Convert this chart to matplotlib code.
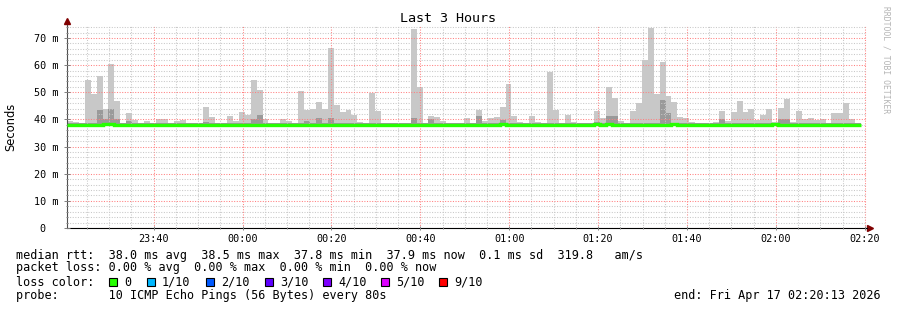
import matplotlib
matplotlib.use('Agg')
import matplotlib.pyplot as plt
from matplotlib.patches import Rectangle

# time in minutes after 23:00, one smokeping step = 80 s
t_start = 20.5
t_end = 200.5
step = 80 / 60

# highest ping per step (ms)
smoke_max = [39.5, 39.0, 38.3, 54.6, 49.4, 56.1, 43.9, 60.5, 46.9, 38.5,
             42.4, 39.9, 38.2, 39.3, 38.2, 40.2, 40.0, 38.3, 39.5, 39.9,
             38.3, 38.3, 38.7, 44.6, 41.0, 38.3, 38.3, 41.4, 39.5, 42.8,
             41.6, 54.6, 50.9, 40.2, 38.3, 38.3, 40.2, 39.5, 38.3, 50.5,
             43.5, 43.9, 46.5, 43.9, 66.4, 45.4, 42.8, 43.5, 41.6, 39.1,
             38.3, 49.8, 43.2, 38.3, 38.3, 38.4, 38.5, 38.7, 73.4, 52.0,
             38.3, 41.4, 41.0, 39.5, 38.7, 38.3, 38.3, 40.6, 38.3, 43.5,
             39.5, 40.6, 41.0, 44.6, 53.1, 41.4, 38.9, 38.3, 41.4, 39.1,
             38.3, 57.6, 43.5, 38.8, 41.6, 39.1, 38.3, 38.3, 38.8, 43.2,
             40.6, 52.0, 48.0, 39.5, 38.3, 43.2, 46.1, 62.0, 73.8, 49.4,
             61.3, 48.7, 46.5, 41.0, 40.6, 39.1, 38.3, 38.3, 38.8, 39.1,
             43.2, 39.5, 42.8, 46.9, 42.8, 43.9, 39.9, 41.6, 43.9, 39.1,
             44.3, 47.6, 39.1, 43.2, 40.2, 40.6, 39.9, 40.0, 38.8, 42.4,
             42.4, 46.1, 40.2, 38.3]

# inner (darker) smoke per step (ms)
smoke_inner = [38.8, 38.8, 38.8, 38.8, 38.8, 43.5, 40.2, 43.9, 40.2, 38.8,
               39.3, 38.8, 38.8, 38.8, 38.8, 38.8, 38.8, 38.8, 38.8, 38.8,
               38.8, 38.8, 38.8, 39.0, 38.8, 38.8, 38.8, 38.8, 38.8, 38.8,
               38.8, 40.2, 41.6, 38.8, 38.8, 38.8, 38.8, 38.8, 38.8, 38.8,
               39.5, 38.8, 40.6, 38.8, 40.6, 38.8, 38.8, 38.8, 38.8, 38.8,
               38.8, 38.8, 38.8, 38.8, 38.8, 38.8, 38.8, 38.8, 40.6, 38.8,
               38.8, 40.2, 38.8, 38.8, 38.8, 38.8, 38.8, 38.8, 38.8, 41.4,
               38.8, 38.8, 38.8, 39.9, 38.8, 38.8, 38.8, 38.8, 38.8, 38.8,
               38.8, 38.8, 38.8, 38.8, 38.8, 38.8, 38.8, 38.8, 38.8, 39.2,
               38.8, 41.4, 41.4, 38.8, 38.8, 38.8, 38.8, 38.8, 38.8, 38.8,
               47.0, 42.4, 38.8, 38.8, 38.8, 38.8, 38.8, 38.8, 38.8, 38.8,
               40.2, 38.8, 38.8, 38.8, 38.8, 38.8, 38.8, 38.8, 38.8, 38.8,
               40.2, 40.2, 38.8, 38.8, 38.8, 38.8, 38.8, 38.8, 38.8, 38.8,
               38.8, 38.8, 38.8, 38.8]

# median rtt per step (ms)
median = [37.8, 37.8, 37.8, 38.0, 38.0, 37.8, 38.3, 38.3, 38.0, 38.0,
          38.0, 37.8, 37.8, 38.0, 37.8, 37.8, 38.0, 38.0, 38.0, 38.0,
          38.0, 37.8, 37.8, 38.0, 38.0, 37.8, 38.0, 37.8, 38.0, 38.0,
          37.8, 38.0, 38.0, 37.8, 37.8, 38.0, 38.0, 37.8, 38.0, 38.0,
          38.0, 37.8, 38.0, 38.0, 37.8, 38.0, 38.0, 38.0, 38.0, 38.0,
          38.0, 38.0, 38.0, 37.8, 37.8, 38.0, 38.0, 37.8, 38.0, 38.0,
          37.8, 38.0, 38.0, 38.0, 37.8, 38.0, 38.0, 38.0, 37.8, 38.0,
          38.0, 38.0, 38.0, 38.2, 38.0, 37.8, 38.0, 38.0, 38.0, 37.8,
          37.8, 38.0, 38.0, 38.0, 38.0, 37.8, 37.8, 38.0, 38.0, 38.2,
          38.0, 38.2, 38.0, 37.8, 38.0, 38.0, 37.8, 37.8, 38.0, 38.0,
          38.0, 38.0, 38.2, 38.0, 38.0, 38.0, 37.8, 37.8, 37.8, 38.0,
          38.0, 37.8, 37.8, 38.0, 38.0, 38.0, 37.8, 37.8, 38.0, 38.2,
          38.0, 38.0, 38.0, 37.8, 37.8, 38.0, 38.0, 37.8, 38.0, 38.0,
          38.0, 37.8, 38.0, 37.8]
min_rtt = 37.8

tick_pos = [40, 60, 80, 100, 120, 140, 160, 180, 200]
tick_labels = ['23:40', '00:00', '00:20', '00:40', '01:00', '01:20', '01:40', '02:00', '02:20']
ytick_pos = [0, 10, 20, 30, 40, 50, 60, 70]
ytick_labels = ['0  ', '10 m', '20 m', '30 m', '40 m', '50 m', '60 m', '70 m']

loss_labels = ['0', '1/10', '2/10', '3/10', '4/10', '5/10', '9/10']
loss_colors = ['#26ff00', '#00b8ff', '#0059ff', '#5e00ff', '#7e00ff', '#dd00ff', '#ff0000']
loss_box_x = [109, 147, 206, 265, 323, 381, 439]

mono = 'DejaVu Sans Mono'
W, H = 897, 310
fig = plt.figure(figsize=(W / 100, H / 100), dpi=100)
ax = fig.add_axes([67 / W, (H - 228) / H, 800 / W, 202 / H])

n = len(smoke_max)
lefts = [t_start + i * step for i in range(n)]
edges = [t_start + i * step for i in range(n + 1)]

ax.bar(lefts, [m - min_rtt for m in smoke_max], width=step, bottom=min_rtt,
       align='edge', color='#c8c8c8', linewidth=0, zorder=1)
ax.bar(lefts, [m - min_rtt for m in smoke_inner], width=step, bottom=min_rtt,
       align='edge', color='#9a9a9a', linewidth=0, zorder=1.5)
ax.stairs(median, edges, color='#26ff00', linewidth=2.4, baseline=None, zorder=4)

ax.set_xlim(t_start, t_end)
ax.set_ylim(0, 74.4)
ax.set_xticks(tick_pos)
ax.set_xticklabels(tick_labels)
ax.set_xticks([x for x in range(25, 201, 5)], minor=True)
ax.set_yticks(ytick_pos)
ax.set_yticklabels(ytick_labels)
ax.set_yticks(list(range(2, 75, 2)), minor=True)

dots = (0, (1, 1.5))
ax.grid(which='minor', color='#c8c8c8', linestyle=dots, linewidth=0.75, zorder=2)
ax.grid(which='major', color='#ff8080', linestyle=dots, linewidth=0.75, zorder=2)
ax.set_axisbelow(False)

for s in ['top', 'right']:
    ax.spines[s].set_visible(False)
ax.spines['left'].set_color('#505050')
ax.spines['bottom'].set_color('#000000')
ax.spines['left'].set_linewidth(0.8)
ax.spines['bottom'].set_linewidth(0.8)

ax.tick_params(axis='both', which='both', direction='inout', color='#808080', width=0.7)
ax.tick_params(axis='y', which='major', length=4, pad=4, labelsize=7.3)
ax.tick_params(axis='y', which='minor', length=2)
ax.tick_params(axis='x', which='major', length=3, pad=3, labelsize=7.3)
ax.tick_params(axis='x', which='minor', length=2)
for lab in ax.get_xticklabels() + ax.get_yticklabels():
    lab.set_family(mono)

# axis arrows
ax.plot([0, 0], [1, 1.02], transform=ax.transAxes, color='#505050', lw=0.8, clip_on=False)
ax.plot([0], [1.025], marker='^', markersize=4.5, color='#800000',
        transform=ax.transAxes, clip_on=False)
ax.plot([1, 1.002], [0, 0], transform=ax.transAxes, color='#000000', lw=0.8, clip_on=False)
ax.plot([1.004], [0], marker='>', markersize=4.5, color='#800000',
        transform=ax.transAxes, clip_on=False)

fig.text(448 / W, 1 - 19 / H, 'Last 3 Hours', ha='center', va='center',
         fontsize=9.6, family=mono)
fig.text(11 / W, 1 - 127 / H, 'Seconds', ha='center', va='center',
         rotation=90, fontsize=8.3, family='DejaVu Sans')
fig.text(886 / W, 1 - 60 / H, 'RRDTOOL / TOBI OETIKER', ha='center', va='center',
         rotation=-90, fontsize=5.8, family=mono, color='#b4b4b4')

fs = 8.5
fig.text(16 / W, 1 - 255 / H,
         'median rtt:  38.0 ms avg  38.5 ms max  37.8 ms min  37.9 ms now  0.1 ms sd  319.8   am/s',
         ha='left', va='center', fontsize=fs, family=mono)
fig.text(16 / W, 1 - 268 / H,
         'packet loss: 0.00 % avg  0.00 % max  0.00 % min  0.00 % now',
         ha='left', va='center', fontsize=fs, family=mono)
fig.text(16 / W, 1 - 282 / H, 'loss color:', ha='left', va='center', fontsize=fs, family=mono)
for bx, lab, col in zip(loss_box_x, loss_labels, loss_colors):
    fig.patches.append(Rectangle((bx / W, 1 - 286 / H), 8 / W, 8 / H, transform=fig.transFigure,
                                 facecolor=col, edgecolor='black', linewidth=0.8))
    fig.text((bx + 15) / W, 1 - 282 / H, lab, ha='left', va='center', fontsize=fs, family=mono)
fig.text(16 / W, 1 - 296 / H,
         'probe:       10 ICMP Echo Pings (56 Bytes) every 80s',
         ha='left', va='center', fontsize=fs, family=mono)
fig.text(881 / W, 1 - 296 / H, 'end: Fri Apr 17 02:20:13 2026',
         ha='right', va='center', fontsize=fs, family=mono)

fig.savefig('out.png', dpi=100)
